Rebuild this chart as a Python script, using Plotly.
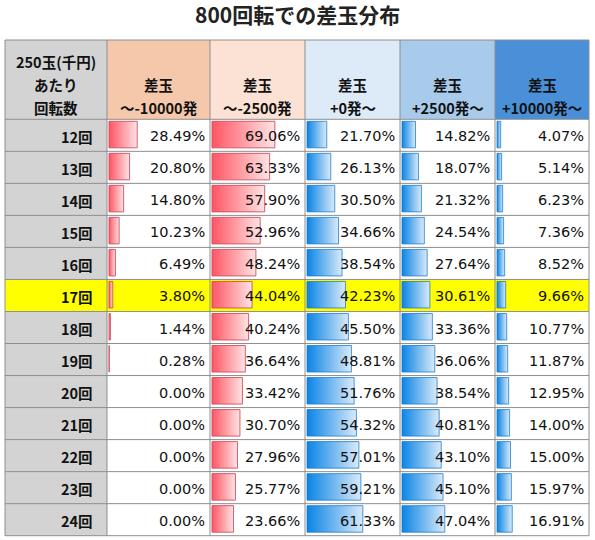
import plotly.graph_objects as go

# data
spins = ["12回", "13回", "14回", "15回", "16回", "17回", "18回",
         "19回", "20回", "21回", "22回", "23回", "24回"]
minus_10000 = [28.49, 20.80, 14.80, 10.23, 6.49, 3.80, 1.44, 0.28, 0.00, 0.00, 0.00, 0.00, 0.00]
minus_2500 = [69.06, 63.33, 57.90, 52.96, 48.24, 44.04, 40.24, 36.64, 33.42, 30.70, 27.96, 25.77, 23.66]
plus_0 = [21.70, 26.13, 30.50, 34.66, 38.54, 42.23, 45.50, 48.81, 51.76, 54.32, 57.01, 59.21, 61.33]
plus_2500 = [14.82, 18.07, 21.32, 24.54, 27.64, 30.61, 33.36, 36.06, 38.54, 40.81, 43.10, 45.10, 47.04]
plus_10000 = [4.07, 5.14, 6.23, 7.36, 8.52, 9.66, 10.77, 11.87, 12.95, 14.00, 15.00, 15.97, 16.91]
headers = [["250玉(千円)", "あたり", "回転数"], ["差玉", "～-10000発"], ["差玉", "～-2500発"],
           ["差玉", "+0発～"], ["差玉", "+2500発～"], ["差玉", "+10000発～"]]
highlight = "17回"
title = "800回転での差玉分布"

series = [minus_10000, minus_2500, plus_0, plus_2500, plus_10000]

# layout / style
W, H = 595, 540
col_x = [5, 107, 210, 305, 400, 495, 589]
head_top, head_bot = 40, 119.3
row_h = 32.03
line_gap = 23
head_bg = ["#d3d3d3", "#f6c8ab", "#fbe2d5", "#ddeaf7", "#a9cbeb", "#4a90d8"]
red_grad = [[0, "#ff5563"], [1, "#ffe4e4"]]
blue_grad = [[0, "#0a84e6"], [1, "#d9eaf9"]]
grads = [red_grad, red_grad, blue_grad, blue_grad, blue_grad]
borders = ["rgba(205,70,90,0.85)", "rgba(205,70,90,0.85)",
           "rgba(20,120,200,0.75)", "rgba(20,120,200,0.75)", "rgba(20,120,200,0.75)"]
grid = "#8e8e8e"
font_val = "DejaVu Sans"
font_jp = "Noto Sans CJK JP"

fig = go.Figure()
shapes = []
ann = []

# header cells
for c in range(6):
    shapes.append(dict(type="rect", layer="below", x0=col_x[c], x1=col_x[c + 1],
                       y0=head_top, y1=head_bot, fillcolor=head_bg[c], line_width=0))
    lines = headers[c]
    for i, txt in enumerate(lines):
        yc = head_bot - 12 - (len(lines) - 1 - i) * line_gap
        ann.append(dict(x=(col_x[c] + col_x[c + 1]) / 2, y=yc, text="<b>" + txt + "</b>",
                        xanchor="center", yanchor="middle", showarrow=False,
                        font=dict(family=font_jp, size=14.5, color="#111")))

# body rows
for r, name in enumerate(spins):
    top = head_bot + r * row_h
    bot = top + row_h
    hl = name == highlight
    shapes.append(dict(type="rect", layer="below", x0=col_x[0], x1=col_x[1], y0=top, y1=bot,
                       fillcolor="#ffff00" if hl else "#d3d3d3", line_width=0))
    shapes.append(dict(type="rect", layer="below", x0=col_x[1], x1=col_x[6], y0=top, y1=bot,
                       fillcolor="#ffff00" if hl else "white", line_width=0))
    ann.append(dict(x=col_x[1] - 12, y=(top + bot) / 2 + 1, text="<b>" + name + "</b>",
                    xanchor="right", yanchor="middle", showarrow=False,
                    font=dict(family=font_jp, size=14.5, color="#111")))
    for c, vals in enumerate(series):
        v = vals[r]
        left = col_x[c + 1] + 2
        full = col_x[c + 2] - col_x[c + 1] - 4
        if v > 0:
            x1 = left + full * v / 100
            fig.add_trace(go.Scatter(
                x=[left, x1, x1, left, left], y=[top + 2, top + 2, bot - 3.5, bot - 3.5, top + 2],
                mode="lines", fill="toself", line=dict(color=borders[c], width=1),
                fillgradient=dict(type="horizontal", colorscale=grads[c]),
                hoverinfo="skip"))
        ann.append(dict(x=col_x[c + 2] - 3, y=(top + bot) / 2 + 1, text=f"{v:.2f}%",
                        xanchor="right", yanchor="middle", showarrow=False,
                        font=dict(family=font_val, size=14.5, color="#111")))

# grid lines
bottom = head_bot + len(spins) * row_h
for x in col_x:
    shapes.append(dict(type="line", layer="below", x0=x, x1=x, y0=head_top, y1=bottom,
                       line=dict(color=grid, width=1)))
for y in [head_top, head_bot] + [head_bot + (r + 1) * row_h for r in range(len(spins))]:
    shapes.append(dict(type="line", layer="below", x0=col_x[0], x1=col_x[-1], y0=y, y1=y,
                       line=dict(color=grid, width=1)))

ann.append(dict(x=W / 2, y=14, text="<b>" + title + "</b>", xanchor="center", yanchor="middle",
                showarrow=False, font=dict(family=font_jp, size=21, color="#222")))

fig.update_layout(
    width=W, height=H, margin=dict(l=0, r=0, t=0, b=0),
    paper_bgcolor="white", plot_bgcolor="white", showlegend=False,
    xaxis=dict(range=[0, W], visible=False, fixedrange=True),
    yaxis=dict(range=[H, 0], visible=False, fixedrange=True),
    shapes=shapes, annotations=ann,
)

# drop the default body margin so the figure fills the window
fig.write_html("out.html", config={"displayModeBar": False},
               post_script="document.body.style.margin='0';")
